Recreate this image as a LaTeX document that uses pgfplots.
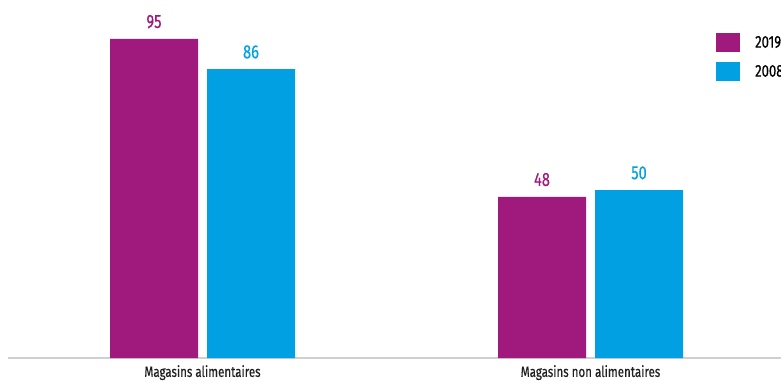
\documentclass[border=0pt]{standalone}
\usepackage{pgfplots}
\pgfplotsset{compat=1.18}
\usepackage{fontspec}
\setmainfont{Fira Sans}[FakeStretch=0.77, FakeBold=0.4]
\definecolor{purp}{RGB}{160,25,125}
\definecolor{cyanb}{RGB}{0,160,227}
\definecolor{axgray}{RGB}{208,208,208}
\pgfplotsset{sqlegend/.style={legend image code/.code={\fill[##1] (0pt,-9.5pt) rectangle (24pt,9.5pt); \path[fill=none,draw=none] (0pt,-14.5pt) rectangle (39pt,14.5pt);}}}
\begin{document}
\begin{tikzpicture}
\useasboundingbox (0,0) rectangle (781pt,380pt);
\clip (0,0) rectangle (781pt,380pt);
\begin{axis}[
  at={(8pt,22pt)}, anchor=south west,
  scale only axis,
  width=773pt, height=335.8pt,
  xmin=-0.5013, xmax=1.4910,
  ymin=0, ymax=100,
  ybar=9pt, bar width=88pt,
  every axis plot post/.append style={sqlegend},
  axis x line*=bottom, axis y line=none,
  axis line style={draw=axgray, line width=1.4pt, -},
  xtick={0,1}, xticklabels={Magasins alimentaires, Magasins non alimentaires},
  major tick length=0pt,
  xticklabel style={font=\fontsize{15}{17}\selectfont, text=black!88, inner sep=0pt, yshift=-7pt},
  ytick=\empty,
  /pgf/number format/assume math mode=true,
  nodes near coords,
  every node near coord/.append style={font=\fontsize{19}{21}\selectfont, inner sep=0pt, anchor=south, yshift=10.5pt},
  legend style={at={(0.9159,0.983)}, anchor=north west, draw=none, fill=none, inner sep=0pt, row sep=0pt,
    font=\fontsize{17}{19}\selectfont, nodes={inner sep=0pt}},
  legend cell align=left,
]
\addplot[draw=none, fill=purp, every node near coord/.append style={text=purp}] coordinates {(0,95) (1,48)};
\addplot[draw=none, fill=cyanb, every node near coord/.append style={text=cyanb}] coordinates {(0,86) (1,50)};
\legend{2019,2008}
\end{axis}
\end{tikzpicture}
\end{document}
